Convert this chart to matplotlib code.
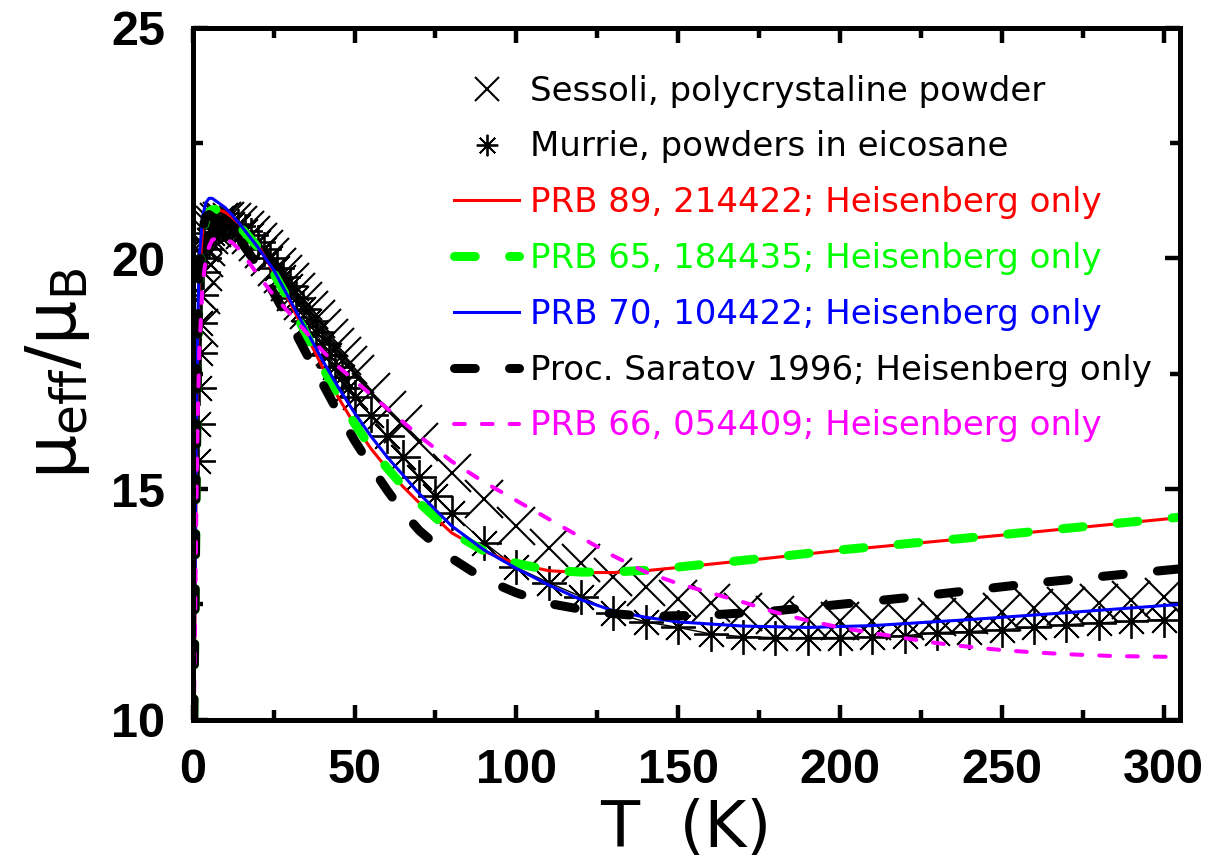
import matplotlib
matplotlib.use("Agg")
import matplotlib.pyplot as plt
from matplotlib.ticker import MultipleLocator

# Sessoli, polycrystaline powder
sessoli_T = [2, 2.5, 3, 3.5, 4, 5, 6, 7, 8, 9, 10, 12, 14, 16, 18, 20, 22, 24, 26, 28,
             30, 32, 34, 36, 38, 40, 42, 44, 46, 48, 50, 55, 60, 65, 70, 80, 90, 100,
             110, 120, 130, 140, 150, 160, 170, 180, 190, 200, 210, 220, 230, 240, 250,
             260, 270, 280, 290, 300]
sessoli_mu = [18.5, 19.2, 19.7, 20.0, 20.25, 20.5, 20.65, 20.72, 20.78, 20.8, 20.8, 20.78,
              20.72, 20.62, 20.5, 20.35, 20.2, 20.02, 19.82, 19.65,
              19.48, 19.28, 19.08, 18.88, 18.68, 18.48, 18.28, 18.08, 17.88, 17.68,
              17.5, 17.1, 16.72, 16.4, 16.02, 15.35, 14.78, 14.2,
              13.72, 13.4, 13.1, 12.87, 12.62, 12.52, 12.34, 12.28, 12.18, 12.13, 12.13,
              12.15, 12.23, 12.28, 12.34, 12.43, 12.46, 12.54, 12.6, 12.67]

# Murrie, powders in eicosane
murrie_T = [1.5, 1.7, 1.9, 2.1, 2.3, 2.6, 3, 3.5, 4, 5, 6, 7, 8, 9, 10, 12, 14, 16, 18,
            20, 22, 24, 26, 28, 30, 32, 34, 36, 38, 40, 42, 44, 46, 48, 50, 55, 60, 65,
            70, 75, 80, 90, 100, 110, 120, 130, 140, 150, 160, 170, 180, 190, 200, 210,
            220, 230, 240, 250, 260, 270, 280, 290, 300]
murrie_mu = [15.6, 16.4, 17.2, 17.95, 18.6, 19.2, 19.7, 20.0, 20.2, 20.4, 20.55, 20.65,
             20.7, 20.75, 20.75, 20.75, 20.7, 20.6, 20.5, 20.35, 20.2, 20.0, 19.8, 19.6,
             19.4, 19.15, 18.9, 18.65, 18.4, 18.15, 17.9, 17.65, 17.42, 17.2, 17.0,
             16.6, 16.14, 15.7, 15.25, 14.84, 14.49, 13.84, 13.3, 12.97, 12.67, 12.32,
             12.12, 12.0, 11.86, 11.8, 11.78, 11.78, 11.78, 11.79, 11.82, 11.89, 11.91,
             11.95, 12.0, 12.06, 12.1, 12.13, 12.17]

# PRB 89, 214422
prb89_T = [0.3, 0.7, 1, 1.5, 2, 3, 4, 5, 6, 8, 10, 12, 15, 20, 25, 30, 35, 40, 45, 50,
           55, 60, 65, 70, 80, 90, 100, 110, 120, 130, 140, 150, 175, 200, 250, 305]
prb89_mu = [10.0, 12.5, 15.0, 18.0, 19.6, 20.6, 20.9, 21.0, 21.05, 21.05, 21.0, 20.9,
            20.7, 20.3, 19.7, 19.05, 18.35, 17.65, 16.98, 16.4, 15.88, 15.45, 15.05,
            14.7, 14.05, 13.65, 13.38, 13.23, 13.19, 13.19, 13.23, 13.3, 13.48, 13.67,
            14.0, 14.38]

# PRB 65, 184435
prb65_T = [0.3, 0.7, 1, 1.5, 2, 3, 4, 5, 6, 7, 8, 10, 12, 15, 20, 25, 30, 35, 40, 45,
           50, 55, 60, 65, 70, 80, 90, 100, 110, 120, 130, 140, 150, 175, 200, 250, 305]
prb65_mu = [10.0, 12.3, 14.8, 17.8, 19.5, 20.5, 20.85, 21.0, 21.05, 21.06, 21.03, 20.95,
            20.85, 20.65, 20.25, 19.68, 19.05, 18.36, 17.66, 17.0, 16.42, 15.9, 15.46,
            15.06, 14.7, 14.06, 13.66, 13.39, 13.24, 13.2, 13.2, 13.24, 13.31, 13.49,
            13.68, 14.01, 14.39]

# PRB 70, 104422
prb70_T = [0.3, 0.7, 1, 1.5, 2, 3, 4, 5, 6, 8, 10, 12, 15, 20, 25, 30, 35, 40, 45, 50,
           55, 60, 65, 70, 80, 90, 100, 110, 120, 130, 140, 150, 170, 190, 210, 240,
           270, 305]
prb70_mu = [10.0, 13.0, 15.5, 18.5, 20.0, 20.9, 21.2, 21.3, 21.3, 21.2, 21.1, 20.95,
            20.7, 20.25, 19.75, 19.1, 18.45, 17.8, 17.2, 16.65, 16.15, 15.7, 15.3, 14.9,
            14.2, 13.68, 13.28, 12.92, 12.6, 12.36, 12.22, 12.12, 12.03, 12.0, 12.04,
            12.17, 12.32, 12.5]

# Proc. Saratov 1996
sar_T = [0.3, 0.7, 1, 1.5, 2, 3, 4, 5, 6, 8, 10, 12, 15, 20, 25, 30, 35, 40, 45, 50,
         55, 60, 65, 70, 80, 90, 100, 110, 125, 140, 160, 180, 200, 220, 240, 260, 280,
         305]
sar_mu = [10.0, 12.5, 15.0, 18.0, 19.6, 20.6, 20.9, 20.95, 20.9, 20.8, 20.7, 20.6,
          20.35, 19.85, 19.25, 18.62, 17.95, 17.3, 16.65, 16.05, 15.5, 14.98, 14.5,
          14.1, 13.5, 13.05, 12.75, 12.52, 12.33, 12.24, 12.27, 12.36, 12.5, 12.64,
          12.8, 12.96, 13.1, 13.27]

# PRB 66, 054409
prb66_T = [0.3, 0.7, 1, 1.5, 2, 3, 4, 5, 6, 8, 10, 12, 15, 20, 25, 30, 35, 40, 45, 50,
           55, 60, 65, 70, 80, 90, 100, 110, 120, 130, 140, 150, 160, 170, 180, 190, 200,
           210, 220, 230, 240, 250, 260, 270, 285, 305]
prb66_mu = [10.0, 12.0, 14.0, 16.5, 18.0, 19.4, 20.0, 20.25, 20.4, 20.45, 20.42, 20.35,
            20.15, 19.65, 19.2, 18.8, 18.4, 18.0, 17.65, 17.35, 17.05, 16.75, 16.45,
            16.15, 15.6, 15.15, 14.75, 14.35, 13.95, 13.55, 13.2, 12.95, 12.75, 12.55,
            12.33, 12.15, 12.0, 11.88, 11.77, 11.66, 11.58, 11.51, 11.46, 11.42, 11.38,
            11.36]

fig = plt.figure(figsize=(12.05, 8.63), dpi=100)
ax = fig.add_axes([0.160, 0.166, 0.819, 0.802])

ax.plot(sessoli_T, sessoli_mu, ls='none', marker='x', ms=27, mew=1.5, color='k',
        label='Sessoli, polycrystaline powder')
ax.plot(murrie_T, murrie_mu, ls='none', marker=(8, 2, 0), ms=25, mew=1.3, color='k',
        label='Murrie, powders in eicosane')
ax.plot(murrie_T, murrie_mu, '-', lw=1, color='k')

ax.plot(prb89_T, prb89_mu, '-', lw=2.2, color='#ff0000',
        label='PRB 89, 214422; Heisenberg only')
ax.plot(prb65_T, prb65_mu, lw=6.5, color='#00ff00', dashes=(2.3, 3.8),
        dash_capstyle='round', label='PRB 65, 184435; Heisenberg only')
ax.plot(prb70_T, prb70_mu, '-', lw=2.2, color='#0000ff',
        label='PRB 70, 104422; Heisenberg only')
ax.plot(sar_T, sar_mu, lw=6.5, color='k', dashes=(2.3, 3.8),
        dash_capstyle='round', label='Proc. Saratov 1996; Heisenberg only')
ax.plot(prb66_T, prb66_mu, lw=2.9, color='#ff00ff', dashes=(2.7, 4.2),
        dash_capstyle='round', label='PRB 66, 054409; Heisenberg only')

ax.set_xlim(0, 305)
ax.set_ylim(10, 25)
ax.xaxis.set_major_locator(MultipleLocator(50))
ax.xaxis.set_minor_locator(MultipleLocator(25))
ax.yaxis.set_major_locator(MultipleLocator(5))
ax.yaxis.set_minor_locator(MultipleLocator(2.5))
ax.tick_params(which='both', direction='in', top=True, right=True, width=3.2)
ax.tick_params(which='major', length=11, labelsize=35)
ax.tick_params(axis='x', which='major', pad=20)
ax.tick_params(axis='y', which='major', pad=20)
ax.tick_params(which='minor', length=7)
for lab in ax.get_xticklabels() + ax.get_yticklabels():
    lab.set_fontweight('bold')
    lab.set_family('Liberation Sans')
for sp in ax.spines.values():
    sp.set_linewidth(3.6)

ax.set_xlabel('T  (K)', fontsize=46, labelpad=4)
ax.set_ylabel('μ$_{\\rm eff}$/μ$_{\\rm B}$', fontsize=50, labelpad=14)

leg = ax.legend(loc='upper left', bbox_to_anchor=(0.265, 0.932), frameon=False,
                fontsize=24.5, handlelength=1.9, handletextpad=0.32, labelspacing=0.67,
                borderaxespad=0, borderpad=0, markerscale=0.62,
                labelcolor=['k', 'k', '#ff0000', '#00ff00', '#0000ff', 'k', '#ff00ff'])

fig.savefig('out.png', dpi=100)
